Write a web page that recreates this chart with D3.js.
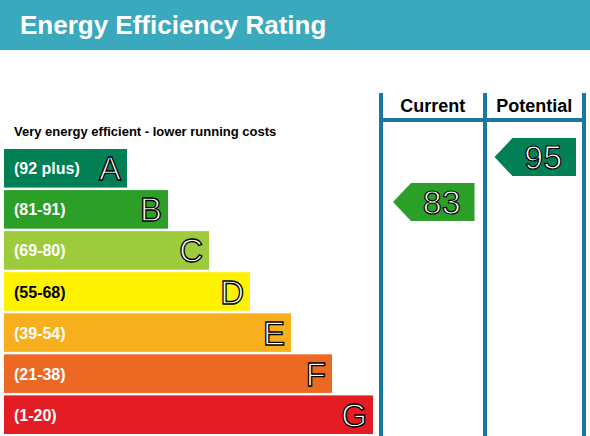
<!DOCTYPE html><html><head><meta charset="utf-8"><script src="https://cdn.jsdelivr.net/npm/d3@7"></script>
<style>body{margin:0;background:#fff}text{font-family:Arial,"Liberation Sans",sans-serif;font-weight:bold}</style></head><body><svg id="c" width="590" height="436"></svg><script>
const bands=["A","B","C","D","E","F","G"];
const ranges=["(92 plus)","(81-91)","(69-80)","(55-68)","(39-54)","(21-38)","(1-20)"];
const barLen=[1,2,3,4,5,6,7];
const colors=["#008054","#2c9f29","#9dcb3c","#fff200","#f7af1d","#ed6823","#e31d23"];
const rangeTextColors=["#fff","#fff","#fff","#000","#fff","#fff","#fff"];
const columns=["Current","Potential"];
const ratings=[83,95];
const ratingBands=["B","A"];
const svg=d3.select("#c");
svg.append("rect").attr("x",0).attr("y",0).attr("width",590).attr("height",50).attr("fill","#3aa8bd");
svg.append("text").attr("x",20).attr("y",34).attr("fill","#fff").attr("font-size",26).text("Energy Efficiency Rating");
svg.append("text").attr("x",14).attr("y",136).attr("font-size",13).attr("fill","#000").text("Very energy efficient - lower running costs");
const y=d3.scaleBand().domain(bands).range([149,434]).paddingInner(0.06);
const x=d3.scaleLinear().domain([0,7]).range([86,373]);
const g=svg.selectAll("g.b").data(bands).enter().append("g");
g.append("rect").attr("x",4).attr("y",d=>y(d)).attr("height",y.bandwidth()).attr("width",(d,i)=>x(barLen[i])-4).attr("fill",(d,i)=>colors[i]);
g.append("text").attr("x",14).attr("y",d=>y(d)+y.bandwidth()/2+6).attr("font-size",16).attr("fill",(d,i)=>rangeTextColors[i]).text((d,i)=>ranges[i]);
g.append("text").attr("x",(d,i)=>x(barLen[i])-6).attr("text-anchor","end").attr("y",d=>y(d)+y.bandwidth()/2+12).attr("font-size",33).attr("fill","#fff").attr("stroke","#000").attr("stroke-width",1.3).style("font-weight","normal").text(d=>d);
const cx=d3.scaleBand().domain(columns).range([381,584]);
const line="#1878a0";
[381,485,584].forEach(v=>svg.append("line").attr("x1",v).attr("x2",v).attr("y1",93).attr("y2",436).attr("stroke",line).attr("stroke-width",4));
svg.append("line").attr("x1",381).attr("x2",584).attr("y1",120).attr("y2",120).attr("stroke",line).attr("stroke-width",4);
svg.selectAll("text.h").data(columns).enter().append("text").attr("x",d=>cx(d)+cx.bandwidth()/2+1).attr("y",112).attr("text-anchor","middle").attr("font-size",18).attr("fill","#000").text(d=>d);
const ry=d3.scaleLinear().domain([92,81]).range([y("A")+y.bandwidth()/2,y("B")+y.bandwidth()/2]);
columns.forEach((c,i)=>{
  const x0=cx(c)+12,x1=cx(c)+cx.bandwidth()-8,cy=ry(ratings[i]),h=19;
  const col=colors[bands.indexOf(ratingBands[i])];
  svg.append("path").attr("d",`M${x0},${cy}L${x0+18},${cy-h}L${x1},${cy-h}L${x1},${cy+h}L${x0+18},${cy+h}Z`).attr("fill",col);
  svg.append("text").attr("x",(x0+x1)/2+8).attr("y",cy+12).attr("text-anchor","middle").attr("font-size",34).attr("fill","#fff").attr("stroke","#000").attr("stroke-width",1.2).style("font-weight","normal").text(ratings[i]);
});
</script></body></html>
